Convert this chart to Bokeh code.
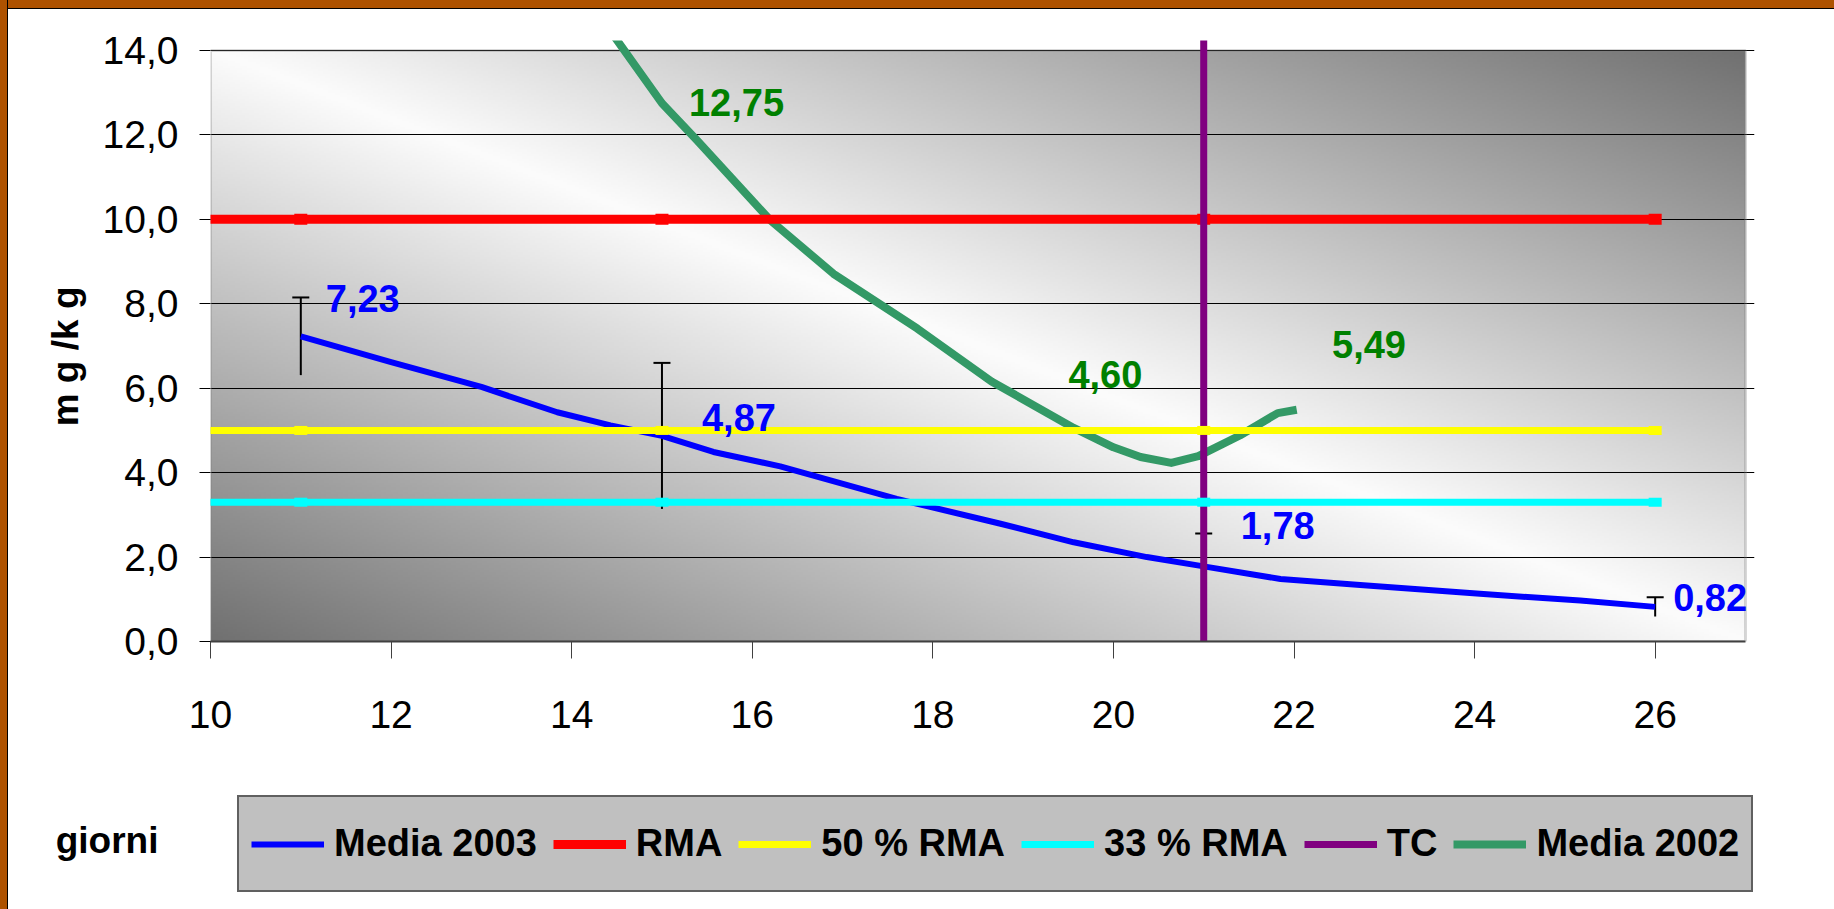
import numpy as np
from bokeh.plotting import figure
from bokeh.layouts import column
from bokeh.models import (ColumnDataSource, FixedTicker, Range1d, Whisker, TeeHead,
                          Legend, LegendItem, BoxAnnotation)
from bokeh.core.properties import value
from bokeh.embed import file_html
from bokeh.resources import INLINE

# ---------------- data ----------------
days_2003 = [11, 12, 13, 13.84, 14.43, 15, 15.57, 16.31, 17.6, 18.75, 19.56, 20.37,
             21, 21.85, 22.77, 24.06, 25.17, 26]
media_2003 = [7.23, 6.62, 6.03, 5.43, 5.12, 4.87, 4.49, 4.15, 3.38, 2.79, 2.35, 2.00,
              1.78, 1.48, 1.33, 1.13, 0.97, 0.82]

days_2002 = [14.45, 15, 15.39, 16.2, 16.9, 17.83, 18.65, 19.56, 20.0, 20.3, 20.64,
             20.94, 21.4, 21.82, 22.03]
media_2002 = [14.4, 12.75, 11.87, 9.98, 8.71, 7.41, 6.16, 5.06, 4.60, 4.37, 4.23,
              4.39, 4.88, 5.41, 5.49]

sample_days_2003 = [11, 15, 21, 26]
sample_media_2003 = [7.23, 4.87, 1.78, 0.82]
sample_err_2003 = [0.92, 1.73, 0.78, 0.23]
labels_2003 = ["7,23", "4,87", "1,78", "0,82"]

sample_days_2002 = [15, 20, 22]
sample_media_2002 = [12.75, 4.60, 5.49]
labels_2002 = ["12,75", "4,60", "5,49"]

ref_days = [10, 26]
marker_days = [11, 15, 21, 26]
rma = 10.0
rma_50 = 5.0
rma_33 = 3.3
tc_day = 21

x_ticks = [10, 12, 14, 16, 18, 20, 22, 24, 26]
y_ticks = [0, 2, 4, 6, 8, 10, 12, 14]
y_tick_labels = ["0,0", "2,0", "4,0", "6,0", "8,0", "10,0", "12,0", "14,0"]

legend_labels = ["Media 2003", "RMA", "50 % RMA", "33 % RMA", "TC", "Media 2002"]
x_title = "giorni"
y_title = "m g /k g"

# ---------------- styling ----------------
FONT = "Liberation Sans"
BLUE, RED, YELLOW, CYAN, PURPLE, GREEN = "#0000FF", "#FF0000", "#FFFF00", "#00FFFF", "#800080", "#339966"
LABEL_GREEN = "#008000"
ORANGE = "#AE5200"
series_colors = [BLUE, RED, YELLOW, CYAN, PURPLE, GREEN]
series_widths = [6, 9, 7, 7, 7, 8]
lab03_dx = [25, 40, 37, 18]
lab03_dy = [-38, -18, -41, -9]
lab02_dx = [27, -45, 38]
lab02_dy = [-1, -73, -65]

X0, X1, X1_VIEW = 10, 27, 27.1
Y0, Y1_VIEW, Y_BOX = 0, 14.237, 14
W = 1834
H_TOP, H_BOTTOM = 770, 139
B_LEFT, B_RIGHT = 210, 80
GIORNI_Y = 69.5

p = figure(width=W, height=H_TOP, x_range=Range1d(X0, X1_VIEW), y_range=Range1d(Y0, Y1_VIEW),
           output_backend="svg", toolbar_location=None,
           min_border_left=B_LEFT, min_border_right=B_RIGHT, min_border_top=40,
           min_border_bottom=H_TOP - 641,
           background_fill_color="white", border_fill_color=None, outline_line_color=None)
p.styles = {"background": ("linear-gradient(to right, %s 0px, %s 7px, #000000 7px, #000000 8px, "
                           "rgba(255,255,255,0) 8px), linear-gradient(to bottom, %s 0px, %s 8px, "
                           "#000000 8px, #000000 9px, #ffffff 9px)") % (ORANGE, ORANGE, ORANGE, ORANGE)}

# gradient plot-area background
nx, ny = 640, 250
u = (np.arange(nx) + 0.5) / nx
v = 1.0 - (np.arange(ny) + 0.5) / ny
d = np.abs(u[None, :] - v[:, None])
g = np.clip(252 - 140 * d, 0, 255).astype(np.uint8)
img = np.empty((ny, nx), dtype=np.uint32)
view = img.view(dtype=np.uint8).reshape((ny, nx, 4))
view[..., 0] = g
view[..., 1] = g
view[..., 2] = g
view[..., 3] = 255
p.image_rgba(image=[img], x=X0, y=Y0, dw=X1 - X0, dh=Y_BOX - Y0, level="image")

p.add_layout(BoxAnnotation(left=X0, right=X1, bottom=Y0, top=Y_BOX, fill_color=None,
                           line_color="#7a7a7a", line_width=3, level="underlay"))

# axes
p.yaxis.ticker = FixedTicker(ticks=y_ticks)
p.yaxis.major_label_overrides = dict(zip(y_ticks, y_tick_labels))
p.yaxis.axis_line_color = None
p.yaxis.major_tick_out = 11
p.yaxis.major_tick_in = 0
p.yaxis.minor_tick_line_color = None
p.yaxis.major_tick_line_color = "black"
p.yaxis.major_label_standoff = 21
p.yaxis.axis_label = y_title + "\u00a0" * 3
p.yaxis.axis_label_text_font = FONT
p.yaxis.axis_label_text_font_size = "37px"
p.yaxis.axis_label_text_font_style = "bold"
p.yaxis.axis_label_text_color = "black"
p.yaxis.axis_label_standoff = 14

p.xaxis.ticker = FixedTicker(ticks=x_ticks)
p.xaxis.bounds = (X0, X1)
p.xaxis.axis_line_color = "#404040"
p.xaxis.axis_line_width = 2
p.xaxis.major_tick_out = 17
p.xaxis.major_tick_in = 0
p.xaxis.minor_tick_line_color = None
p.xaxis.major_tick_line_color = "#404040"
p.xaxis.major_label_standoff = 42

for ax in (p.xaxis, p.yaxis):
    ax.major_label_text_font = FONT
    ax.major_label_text_font_size = "39px"
    ax.major_label_text_color = "black"

p.xgrid.grid_line_color = None
p.ygrid.ticker = FixedTicker(ticks=y_ticks)
p.ygrid.grid_line_color = "black"
p.ygrid.grid_line_width = 1

# error bars
err_src = ColumnDataSource(dict(
    base=sample_days_2003,
    upper=[m + e for m, e in zip(sample_media_2003, sample_err_2003)],
    lower=[m - e for m, e in zip(sample_media_2003, sample_err_2003)]))
p.add_layout(Whisker(source=err_src, base="base", upper="upper", lower="lower",
                     line_color="black", line_width=2,
                     upper_head=TeeHead(size=17, line_color="black", line_width=2),
                     lower_head=None))

# series
p.line(days_2003, media_2003, line_color=BLUE, line_width=6, line_join="round")
p.line(days_2002, media_2002, line_color=GREEN, line_width=8, line_join="round")
p.line(ref_days, [rma] * len(ref_days), line_color=RED, line_width=9, line_cap="square")
p.line(ref_days, [rma_50] * len(ref_days), line_color=YELLOW, line_width=7, line_cap="square")
p.line(ref_days, [rma_33] * len(ref_days), line_color=CYAN, line_width=7, line_cap="square")
p.rect(x=marker_days, y=[rma] * len(marker_days), width=13, height=11,
       width_units="screen", height_units="screen", fill_color=RED, line_color=None)
p.line([tc_day, tc_day], [Y0 - 0.1, Y1_VIEW + 0.1], line_color=PURPLE, line_width=7)
for lvl, col in ((rma_50, YELLOW), (rma_33, CYAN)):
    p.rect(x=marker_days, y=[lvl] * len(marker_days), width=13, height=9,
           width_units="screen", height_units="screen", fill_color=col, line_color=None)

# data labels
src03 = ColumnDataSource(dict(x=sample_days_2003, y=sample_media_2003, t=labels_2003,
                              dx=lab03_dx, dy=lab03_dy))
p.text(x="x", y="y", text="t", x_offset="dx", y_offset="dy", source=src03,
       text_color=BLUE, text_font=value(FONT), text_font_size="38px",
       text_font_style="bold", text_baseline="alphabetic", text_align="left")
src02 = ColumnDataSource(dict(x=sample_days_2002, y=sample_media_2002, t=labels_2002,
                              dx=lab02_dx, dy=lab02_dy))
p.text(x="x", y="y", text="t", x_offset="dx", y_offset="dy", source=src02,
       text_color=LABEL_GREEN, text_font=value(FONT), text_font_size="38px",
       text_font_style="bold", text_baseline="alphabetic", text_align="left")

# ---------------- bottom strip: x title and legend ----------------
q = figure(width=W, height=H_BOTTOM, x_range=Range1d(0, 1), y_range=Range1d(0, H_BOTTOM),
           output_backend="svg", toolbar_location=None,
           x_axis_location=None, y_axis_location="left",
           min_border_left=B_LEFT, min_border_right=B_RIGHT, min_border_top=0, min_border_bottom=0,
           background_fill_color="white", border_fill_color=None, outline_line_color=None)
q.styles = {"background": ("linear-gradient(to right, %s 0px, %s 7px, #000000 7px, #000000 8px, "
                           "#ffffff 8px)") % (ORANGE, ORANGE)}
q.xgrid.grid_line_color = None
q.ygrid.grid_line_color = None
q.yaxis.ticker = FixedTicker(ticks=[GIORNI_Y])
q.yaxis.major_label_overrides = {GIORNI_Y: x_title}
q.yaxis.axis_line_color = None
q.yaxis.major_tick_line_color = None
q.yaxis.minor_tick_line_color = None
q.yaxis.major_tick_out = 0
q.yaxis.major_tick_in = 0
q.yaxis.major_label_standoff = 52
q.yaxis.major_label_text_font = FONT
q.yaxis.major_label_text_font_size = "37px"
q.yaxis.major_label_text_font_style = "bold"
q.yaxis.major_label_text_color = "black"

legend_renderers = [q.line(np.array([np.nan]), np.array([np.nan]), line_color=c, line_width=w)
                    for c, w in zip(series_colors, series_widths)]
legend = Legend(items=[LegendItem(label=l, renderers=[r])
                       for l, r in zip(legend_labels, legend_renderers)],
                location=(27, 17), orientation="horizontal",
                background_fill_color="#C0C0C0", background_fill_alpha=1.0,
                border_line_color="black", border_line_width=2,
                label_text_font=FONT, label_text_font_style="bold", label_text_font_size="38px",
                label_text_color="black", label_height=69,
                glyph_width=73, glyph_height=20, label_standoff=10, spacing=16,
                padding=12, margin=0)
q.add_layout(legend)

layout = column(p, q, spacing=0)
open("out.html", "w").write(file_html(layout, INLINE))
